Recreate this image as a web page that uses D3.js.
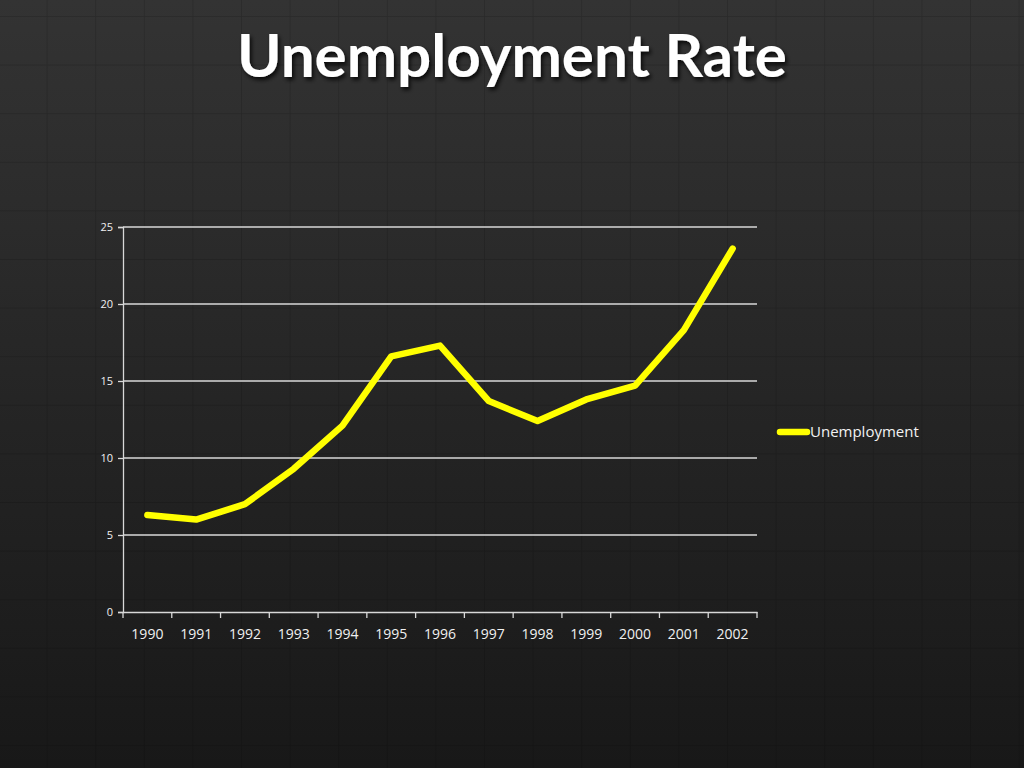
<!DOCTYPE html>
<html><head><meta charset="utf-8">
<script src="https://cdn.jsdelivr.net/npm/d3@7"></script>
<style>html,body{margin:0;padding:0;background:#222;}svg{display:block;}</style>
</head><body>
<script>
const years = ["1990","1991","1992","1993","1994","1995","1996","1997","1998","1999","2000","2001","2002"];
const unemployment = [6.3, 6.0, 7.0, 9.3, 12.1, 16.6, 17.3, 13.7, 12.4, 13.8, 14.7, 18.3, 23.6];
const yTicks = [0, 5, 10, 15, 20, 25];
const seriesName = "Unemployment";
const titleText = "Unemployment Rate";

const W = 1024, H = 768;
const svg = d3.select("body").append("svg").attr("width", W).attr("height", H);
const defs = svg.append("defs");
const bg = defs.append("linearGradient").attr("id","bg").attr("x1",0).attr("y1",0).attr("x2",0).attr("y2",1);
bg.append("stop").attr("offset","0%").attr("stop-color","#333333");
bg.append("stop").attr("offset","100%").attr("stop-color","#181818");
const pat = defs.append("pattern").attr("id","grid").attr("width",48.6).attr("height",48.6)
  .attr("patternUnits","userSpaceOnUse").attr("x",-2).attr("y",16);
pat.append("path").attr("d","M0,0H48.6M0,0V48.6").attr("stroke","#000").attr("stroke-opacity",0.18).attr("stroke-width",1.5).attr("fill","none");
const sh = defs.append("filter").attr("id","sh").attr("x","-5%").attr("y","-20%").attr("width","110%").attr("height","150%");
sh.append("feDropShadow").attr("dx",2).attr("dy",3).attr("stdDeviation",2).attr("flood-color","#000").attr("flood-opacity",0.8);

svg.append("rect").attr("width",W).attr("height",H).attr("fill","url(#bg)");
svg.append("rect").attr("width",W).attr("height",H).attr("fill","url(#grid)");

svg.append("text").attr("x",512).attr("y",77).attr("text-anchor","middle")
  .attr("font-family","Lato, 'Open Sans', sans-serif").attr("font-weight","bold").attr("font-size",60)
  .attr("textLength",550).attr("lengthAdjust","spacingAndGlyphs")
  .attr("fill","#fff").attr("filter","url(#sh)").text(titleText);

const L = 123, R = 757, T = 227, B = 612;
const x = d3.scaleBand().domain(years).range([L, R]);
const y = d3.scaleLinear().domain([0, 25]).range([B, T]);

const g = svg.append("g");
g.selectAll("line.grid").data(yTicks.filter(d=>d>0)).join("line")
  .attr("x1", L).attr("x2", R).attr("y1", d=>y(d)).attr("y2", d=>y(d))
  .attr("stroke","#d8d8d8").attr("stroke-width",1.3);

const font = "'Open Sans', 'Noto Sans', sans-serif";
const yAxis = g.append("g").attr("transform",`translate(${L},0)`)
  .call(d3.axisLeft(y).tickValues(yTicks).tickSize(5).tickPadding(5));
yAxis.select(".domain").attr("stroke","#d8d8d8").attr("stroke-width",1.3);
yAxis.selectAll(".tick line").attr("stroke","#d8d8d8").attr("stroke-width",1.3);
yAxis.selectAll("text").attr("fill","#f0f0f0").attr("font-size",11).attr("font-family",font);

const xAxis = g.append("g").attr("transform",`translate(0,${B})`)
  .call(d3.axisBottom(x).tickSize(0).tickPadding(17));
xAxis.select(".domain").attr("stroke","#d8d8d8").attr("stroke-width",1.3);
xAxis.selectAll("text").attr("fill","#f0f0f0").attr("font-size",14).attr("font-family",font);
const bounds = years.map(d=>x(d)).concat([R]);
g.selectAll("line.xt").data(bounds).join("line")
  .attr("x1",d=>d).attr("x2",d=>d).attr("y1",B).attr("y2",B+6)
  .attr("stroke","#d8d8d8").attr("stroke-width",1.3);

const line = d3.line().x((d,i)=>x(years[i]) + x.bandwidth()/2).y(d=>y(d));
g.append("path").datum(unemployment).attr("d", line)
  .attr("fill","none").attr("stroke","#ffff00").attr("stroke-width",6.5)
  .attr("stroke-linejoin","round").attr("stroke-linecap","round");

const lg = svg.append("g").attr("transform","translate(780,432)");
lg.append("line").attr("x1",0).attr("x2",27).attr("y1",0).attr("y2",0)
  .attr("stroke","#ffff00").attr("stroke-width",6.5).attr("stroke-linecap","round");
lg.append("text").attr("x",30).attr("y",5).attr("fill","#f2f2f2").attr("font-size",15)
  .attr("font-family",font).text(seriesName);
</script>
</body></html>
